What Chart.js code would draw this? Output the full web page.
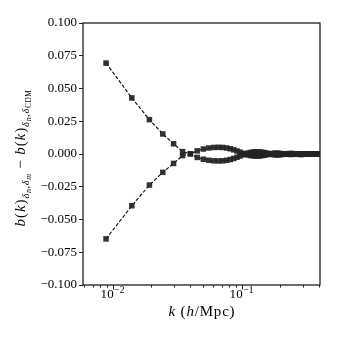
<!DOCTYPE html>
<html>
<head>
<meta charset="utf-8">
<script src="https://cdn.jsdelivr.net/npm/chart.js@4.4.1/dist/chart.umd.min.js"></script>
<style>
  html, body { margin: 0; padding: 0; background: #fff; }
  #wrap { width: 337px; height: 337px; }
</style>
</head>
<body>
<div id="wrap"><canvas id="grafico" width="337" height="337"></canvas></div>
<script>
// k bins (h/Mpc)
const kValues = [
  0.0089, 0.0141, 0.0193, 0.0245, 0.0297, 0.0349, 0.0401, 0.0453, 0.0505, 0.0557,
  0.0609, 0.0661, 0.0713, 0.0765, 0.0817, 0.0869, 0.0921, 0.0973, 0.1025, 0.1077,
  0.1129, 0.1181, 0.1233, 0.1285, 0.1337, 0.1389, 0.1441, 0.1493, 0.1545, 0.1597,
  0.1649, 0.1701, 0.1753, 0.1805, 0.1857, 0.1909, 0.1961, 0.2013, 0.2065, 0.2117,
  0.2169, 0.2221, 0.2273, 0.2325, 0.2377, 0.2429, 0.2481, 0.2533, 0.2585, 0.2637,
  0.2689, 0.2741, 0.2793, 0.2845, 0.2897, 0.2949, 0.3001, 0.3053, 0.3105, 0.3157,
  0.3209, 0.3261, 0.3313, 0.3365, 0.3417, 0.3469, 0.3521, 0.3573, 0.3625, 0.3677,
  0.3729, 0.3781, 0.3833, 0.3885, 0.3937, 0.3989
];

// curva que começa em cima
const serieA = [
  0.0694, 0.0428, 0.0262, 0.0153, 0.0078, 0.0018, 0.0002, -0.0026, -0.0040, -0.0048,
  -0.0052, -0.0053, -0.0052, -0.0048, -0.0042, -0.0034, -0.0025, -0.0015, -0.0006, 0.0002,
  0.0008, 0.0012, 0.0015, 0.0016, 0.0016, 0.0015, 0.0013, 0.0010, 0.0007, 0.0004,
  0.0001, -0.0002, -0.0004, -0.0005, -0.0006, -0.0006, -0.0005, -0.0004, -0.0003, -0.0001,
  0.0000, 0.0001, 0.0002, 0.0003, 0.0003, 0.0003, 0.0003, 0.0002, 0.0001, 0.0000,
  -0.0001, -0.0002, -0.0002, -0.0003, -0.0003, -0.0003, -0.0002, -0.0002, -0.0001, 0.0000,
  0.0001, 0.0001, 0.0002, 0.0002, 0.0002, 0.0002, 0.0001, 0.0001, 0.0000, -0.0001,
  -0.0001, -0.0001, -0.0001, -0.0001, 0.0000, 0.0000
];

// curva que começa embaixo
const serieB = [
  -0.0648, -0.0395, -0.0237, -0.0140, -0.0072, -0.0012, 0.0001, 0.0024, 0.0038, 0.0046,
  0.0050, 0.0051, 0.0050, 0.0046, 0.0040, 0.0032, 0.0023, 0.0014, 0.0005, -0.0002,
  -0.0008, -0.0012, -0.0014, -0.0015, -0.0015, -0.0014, -0.0012, -0.0009, -0.0006, -0.0003,
  0.0000, 0.0002, 0.0004, 0.0005, 0.0005, 0.0005, 0.0004, 0.0003, 0.0002, 0.0001,
  0.0000, -0.0001, -0.0002, -0.0002, -0.0003, -0.0003, -0.0002, -0.0002, -0.0001, 0.0000,
  0.0001, 0.0001, 0.0002, 0.0002, 0.0002, 0.0002, 0.0002, 0.0001, 0.0001, 0.0000,
  -0.0001, -0.0001, -0.0001, -0.0001, -0.0001, -0.0001, 0.0000, 0.0000, 0.0000, 0.0001,
  0.0001, 0.0001, 0.0001, 0.0000, 0.0000, 0.0000
];

// eixos
const yMin = -0.1, yMax = 0.1, yStep = 0.025;
const xMin = 0.0059, xMax = 0.405;
const xMajorTicks = [0.01, 0.1];
const xMajorExp = ['\u22122', '\u22121'];
const xMinorTicks = [0.006, 0.007, 0.008, 0.009, 0.02, 0.03, 0.04, 0.05, 0.06, 0.07, 0.08, 0.09, 0.2, 0.3, 0.4];

const SERIF = '"Liberation Serif", "DejaVu Serif", serif';

function pontos(ys) {
  return kValues.map((k, i) => ({ x: k, y: ys[i] }));
}

function estiloSerie(ys) {
  return {
    data: pontos(ys),
    showLine: true,
    borderColor: '#000',
    borderWidth: 1.1,
    borderDash: [3.6, 1.8],
    pointStyle: 'rect',
    pointRadius: 3.9,
    pointBorderWidth: 0,
    pointBackgroundColor: 'rgba(35,35,35,0.92)',
    pointHoverRadius: 3.9,
    tension: 0
  };
}

// desenha texto com partes em itálico / subscrito, letra a letra (espaçamento extra)
function desenhaPartes(ctx, partes, cx, cy, rot, sp) {
  sp = sp || 0;
  ctx.save();
  ctx.translate(cx, cy);
  ctx.rotate(rot);
  ctx.fillStyle = '#000';
  ctx.textBaseline = 'alphabetic';
  ctx.textAlign = 'left';
  let total = 0;
  for (const p of partes) {
    ctx.font = (p.it ? 'italic ' : '') + p.s + 'px ' + SERIF;
    p.w = 0;
    for (const c of p.t) p.w += ctx.measureText(c).width + sp * p.s / 13;
    total += p.w;
  }
  let x = -total / 2;
  for (const p of partes) {
    ctx.font = (p.it ? 'italic ' : '') + p.s + 'px ' + SERIF;
    for (const c of p.t) {
      ctx.fillText(c, x, p.dy || 0);
      x += ctx.measureText(c).width + sp * p.s / 13;
    }
  }
  ctx.restore();
}

const pluginMoldura = {
  id: 'moldura',
  afterDraw(chart) {
    const { ctx, chartArea: a } = chart;
    const xs = chart.scales.x;
    ctx.save();
    ctx.strokeStyle = '#222';
    ctx.lineWidth = 1.3;
    ctx.strokeRect(a.left, a.top, a.right - a.left, a.bottom - a.top);

    // ticks do eixo x
    ctx.lineWidth = 1;
    ctx.beginPath();
    for (const v of xMajorTicks) {
      const px = Math.round(xs.getPixelForValue(v)) + 0.5;
      ctx.moveTo(px, a.bottom); ctx.lineTo(px, a.bottom + 4.5);
    }
    for (const v of xMinorTicks) {
      if (v < xMin || v > xMax) continue;
      const px = Math.round(xs.getPixelForValue(v)) + 0.5;
      ctx.moveTo(px, a.bottom); ctx.lineTo(px, a.bottom + 2.5);
    }
    ctx.stroke();

    // rótulos 10^n
    xMajorTicks.forEach((v, i) => {
      const px = xs.getPixelForValue(v);
      desenhaPartes(ctx, [
        { t: '10', s: 13 },
        { t: xMajorExp[i], s: 9.5, dy: -5 }
      ], px, a.bottom + 12.5, 0, 0.3);
    });

    // título do eixo x
    desenhaPartes(ctx, [
      { t: 'k', s: 15, it: true },
      { t: ' (', s: 15 },
      { t: 'h', s: 15, it: true },
      { t: '/Mpc)', s: 15 }
    ], (a.left + a.right) / 2 + 0.5, 316, 0, 0.7);

    // título do eixo y
    desenhaPartes(ctx, [
      { t: 'b', s: 15, it: true },
      { t: '(', s: 15 },
      { t: 'k', s: 15, it: true },
      { t: ')', s: 15 },
      { t: '\u03b4', s: 10.5, it: true, dy: 3.5 },
      { t: 'n', s: 8, it: true, dy: 5.5 },
      { t: ',', s: 10.5, dy: 3.5 },
      { t: '\u03b4', s: 10.5, it: true, dy: 3.5 },
      { t: 'm', s: 8, it: true, dy: 5.5 },
      { t: ' \u2212 ', s: 15 },
      { t: 'b', s: 15, it: true },
      { t: '(', s: 15 },
      { t: 'k', s: 15, it: true },
      { t: ')', s: 15 },
      { t: '\u03b4', s: 10.5, it: true, dy: 3.5 },
      { t: 'n', s: 8, it: true, dy: 5.5 },
      { t: ',', s: 10.5, dy: 3.5 },
      { t: '\u03b4', s: 10.5, it: true, dy: 3.5 },
      { t: 'CDM', s: 7.5, dy: 5.5 }
    ], 25, 158, -Math.PI / 2, 0.8);
    ctx.restore();
  }
};

const ctx = document.getElementById('grafico').getContext('2d');
new Chart(ctx, {
  type: 'scatter',
  data: {
    datasets: [estiloSerie(serieA), estiloSerie(serieB)]
  },
  options: {
    responsive: false,
    animation: false,
    events: [],
    layout: { padding: { top: 23, right: 17, left: 0, bottom: 0 } },
    plugins: { legend: { display: false }, tooltip: { enabled: false } },
    scales: {
      x: {
        type: 'logarithmic',
        min: xMin,
        max: xMax,
        grid: { display: false },
        border: { display: false },
        ticks: { display: false },
        afterFit(scale) { scale.height = 52; }
      },
      y: {
        min: yMin,
        max: yMax,
        grid: { drawOnChartArea: false, drawTicks: true, tickLength: 4, color: '#222' },
        border: { display: false },
        ticks: {
          stepSize: yStep,
          padding: 2,
          color: '#000',
          font: { family: SERIF, size: 13 },
          callback(v) {
            const s = Math.abs(v).toFixed(3);
            return v < -1e-9 ? '\u2212' + s : s;
          }
        },
        afterFit(scale) { scale.width = 83; }
      }
    }
  },
  plugins: [pluginMoldura]
});
</script>
</body>
</html>
